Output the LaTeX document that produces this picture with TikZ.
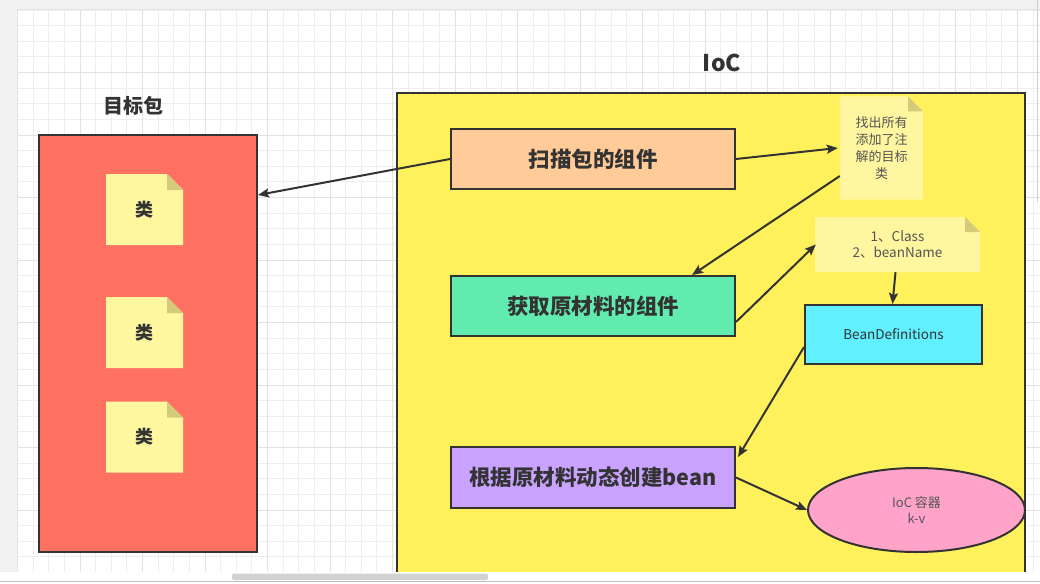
\documentclass[tikz,border=0pt]{standalone}
\usepackage{fontspec}
\setmainfont{Noto Sans CJK SC}
\usetikzlibrary{arrows.meta,calc,shapes.geometric}
\definecolor{ink}{HTML}{333333}
\definecolor{gridminor}{HTML}{EEEEEE}
\definecolor{gridmajor}{HTML}{E2E2E2}
\definecolor{redbox}{HTML}{FF7262}
\definecolor{ioc}{HTML}{FFF15C}
\definecolor{peach}{HTML}{FFCC99}
\definecolor{mint}{HTML}{62EBAE}
\definecolor{lavender}{HTML}{C9A3FF}
\definecolor{cyanbox}{HTML}{61F0FF}
\definecolor{pinkell}{HTML}{FFA3C9}
\definecolor{notefill}{HTML}{FFF6A0}
\definecolor{notefold}{HTML}{D5C97A}
\definecolor{notetxt}{HTML}{555555}
\tikzset{
  procbox/.style={draw=ink,line width=2pt,minimum width=284pt,minimum height=60pt,
    font=\bfseries\fontsize{21.5}{24}\selectfont,text=ink,inner sep=0pt},
  notebox/.style={inner sep=0pt,align=center,text=notetxt,
    path picture={
      \fill[notefill] (path picture bounding box.south west) --
        (path picture bounding box.north west) --
        ($(path picture bounding box.north east)+(-#1,0)$) --
        ($(path picture bounding box.north east)+(0,#1)$) --
        (path picture bounding box.south east) -- cycle;
      \fill[notefold] ($(path picture bounding box.north east)+(-#1,0)$) --
        ($(path picture bounding box.north east)+(-#1,#1)$) --
        ($(path picture bounding box.north east)+(0,#1)$) -- cycle;
    }},
  notebox/.default=16,
  conn/.style={draw=ink,line width=2pt,-{Stealth[length=11pt,width=9pt,inset=2pt]}},
}
\begin{document}
\begin{tikzpicture}[x=1pt,y=-1pt]
\useasboundingbox (0,0) rectangle (1040,583);
% window background
\fill[white] (0,0) rectangle (1040,583);
\fill[gray!10] (0,0) rectangle (1040,10);
\fill[gray!10] (0,0) rectangle (17,572);
% grid
\foreach \i in {0,...,65} {
  \draw[gridminor,line width=0.8pt] (17.5+\i*15.625,10) -- (17.5+\i*15.625,572);
}
\foreach \j in {0,...,36} {
  \draw[gridminor,line width=0.8pt] (17,10+\j*15.625) -- (1040,10+\j*15.625);
}
\foreach \i in {0,...,16} {
  \draw[gridmajor,line width=1pt] (17.5+\i*62.5,10) -- (17.5+\i*62.5,572);
}
\foreach \j in {0,...,9} {
  \draw[gridmajor,line width=1pt] (17,10+\j*62.5) -- (1040,10+\j*62.5);
}
% bottom scroll area
\fill[white] (0,572) rectangle (1040,583);
\fill[gray!35,rounded corners=2pt] (232,573.5) rectangle (488,580);
\draw[gray!50,line width=0.8pt] (0,581) -- (1040,581);
\draw[gray!40,line width=0.8pt] (1037,0) -- (1037,202);

% titles
\node[font=\bfseries\fontsize{20}{24}\selectfont,text=ink] (pkgtitle) at (133,106) {目标包};
\node[font=\bfseries\fontsize{23}{26}\selectfont,text=ink] (ioctitle) at (722,63) {IoC};

% target package
\node[draw=ink,line width=2pt,fill=redbox,minimum width=218pt,minimum height=417pt] (red) at (148,343.5) {};
\node[notebox,minimum width=77pt,minimum height=71pt,font=\bfseries\fontsize{18}{20}\selectfont,text=ink] (c1) at (144.5,209.5) {类};
\node[notebox,minimum width=77pt,minimum height=71pt,font=\bfseries\fontsize{18}{20}\selectfont,text=ink] (c2) at (144.5,332.5) {类};
\node[notebox,minimum width=77pt,minimum height=71pt,font=\bfseries\fontsize{18}{20}\selectfont,text=ink] (c3) at (144.5,437) {类};

% IoC container
\node[fill=ioc,minimum width=628pt,minimum height=479pt,inner sep=0pt] (iocbox) at (711,332.5) {};
\draw[ink,line width=2pt] (iocbox.south west) -- (iocbox.north west) -- (iocbox.north east) -- (iocbox.south east);

\node[procbox,fill=peach] (scan) at (593,159) {扫描包的组件};
\node[procbox,fill=mint] (green) at (593,306) {获取原材料的组件};
\node[procbox,fill=lavender,minimum height=61pt] (purple) at (593,477.5) {根据原材料动态创建bean};

\node[notebox=15,minimum width=83pt,minimum height=103pt,font=\fontsize{13}{17}\selectfont] (note1) at (881.5,148) {找出所有\\添加了注\\解的目标\\类};
\node[notebox=15,minimum width=165pt,minimum height=55pt,font=\fontsize{13.5}{16.5}\selectfont] (note2) at (897.5,244.5) {1、Class\\2、beanName};

\node[draw=ink,line width=2pt,fill=cyanbox,minimum width=177pt,minimum height=59pt,font=\fontsize{13.5}{16}\selectfont,text=ink,inner sep=0pt] (bd) at (893.5,334.5) {BeanDefinitions};

\node[ellipse,draw=ink,line width=2pt,fill=pinkell,minimum width=217pt,minimum height=84pt,inner sep=0pt,align=center,font=\fontsize{13}{16.5}\selectfont,text=notetxt] (ell) at (916.5,510) {IoC 容器\\k-v};

% connectors
\draw[conn] (scan.west) -- ([yshift=-61pt]red.north east);
\draw[conn] (scan.east) -- ([xshift=-2pt]note1.west);
\draw[conn] ([yshift=-28pt]note1.west) -- ([xshift=99pt]green.north);
\draw[conn] ([yshift=-16pt]green.east) -- ([xshift=1pt]note2.west);
\draw[conn] ([xshift=-2pt]note2.south) -- ([xshift=-1pt]bd.north);
\draw[conn] ([yshift=-12.5pt]bd.west) -- ([yshift=-11pt,xshift=2pt]purple.north east);
\draw[conn] (purple.east) -- (ell.west);
\end{tikzpicture}
\end{document}
